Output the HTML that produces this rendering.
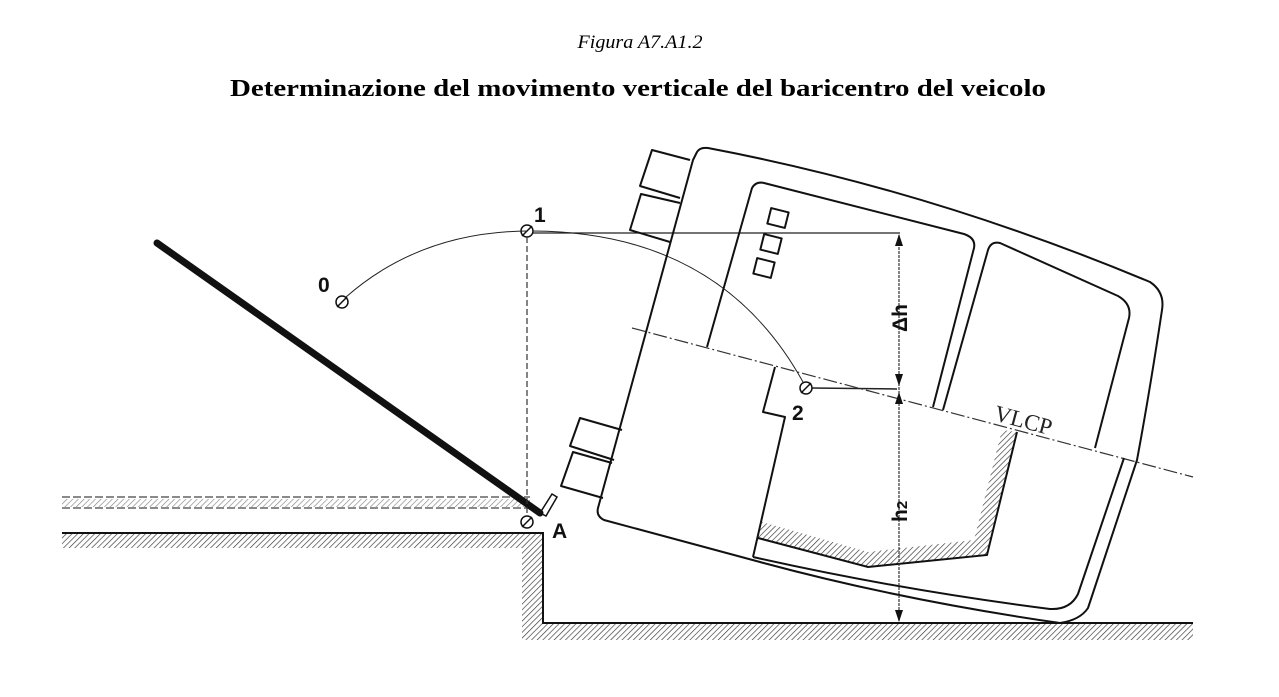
<!DOCTYPE html>
<html><head><meta charset="utf-8"><style>
html,body{margin:0;padding:0;background:#fff;}
svg{display:block;}
.serif{font-family:"Liberation Serif",serif;}
.sans{font-family:"Liberation Sans",sans-serif;}
</style></head><body>
<svg width="1279" height="697" viewBox="0 0 1279 697" xmlns="http://www.w3.org/2000/svg">
<defs>
<pattern id="h" width="4" height="4" patternUnits="userSpaceOnUse" patternTransform="rotate(45)">
<line x1="0" y1="0" x2="0" y2="4" stroke="#333" stroke-width="1.3"/>
</pattern>
</defs>
<text class="serif" x="640" y="48" text-anchor="middle" font-style="italic" font-size="19" textLength="125" lengthAdjust="spacingAndGlyphs">Figura A7.A1.2</text>
<text class="serif" x="638" y="96" text-anchor="middle" font-weight="bold" font-size="24" textLength="816" lengthAdjust="spacingAndGlyphs">Determinazione del movimento verticale del baricentro del veicolo</text>

<!-- ground -->
<rect x="62" y="534" width="460" height="14" fill="url(#h)"/>
<rect x="522" y="534" width="21" height="106" fill="url(#h)"/>
<rect x="543" y="623" width="650" height="17" fill="url(#h)"/>
<polyline points="62,533 543,533 543,623 1193,623" fill="none" stroke="#111" stroke-width="2"/>
<!-- dashed double line -->
<rect x="62" y="499" width="468" height="8" fill="url(#h)" opacity="0.6"/>
<line x1="62" y1="497" x2="530" y2="497" stroke="#444" stroke-width="1.3" stroke-dasharray="8,3"/>
<line x1="62" y1="508" x2="530" y2="508" stroke="#444" stroke-width="1.3" stroke-dasharray="8,3"/>

<!-- thick bar -->
<line x1="157" y1="243" x2="540" y2="513" stroke="#111" stroke-width="7" stroke-linecap="round"/>
<polygon points="540,513 552,494 557,497 546,516" fill="none" stroke="#111" stroke-width="1.5"/>

<!-- points -->
<g fill="none" stroke="#111" stroke-width="1.5">
<circle cx="342" cy="302" r="6"/><line x1="337" y1="307" x2="347" y2="297"/>
<circle cx="527" cy="231" r="6"/><line x1="522" y1="236" x2="532" y2="226"/>
<circle cx="806" cy="388" r="6"/><line x1="801" y1="393" x2="811" y2="383"/>
<circle cx="527" cy="522" r="6"/><line x1="522" y1="527" x2="532" y2="517"/>
</g>
<g class="sans" font-weight="bold" font-size="21" fill="#111">
<text x="318" y="292">0</text>
<text x="534" y="222">1</text>
<text x="792" y="420">2</text>
<text x="552" y="538">A</text>
</g>
<!-- arcs -->
<path d="M346,297 Q420,232 527,231" fill="none" stroke="#222" stroke-width="1"/>
<path d="M533,231 Q720,232 803,382" fill="none" stroke="#222" stroke-width="1"/>
<line x1="527" y1="237" x2="527" y2="515" stroke="#333" stroke-width="1.2" stroke-dasharray="6,3"/>
<line x1="533" y1="233" x2="900" y2="233" stroke="#222" stroke-width="1.2"/>
<line x1="812" y1="388" x2="897" y2="389" stroke="#222" stroke-width="1.5"/>

<!-- VLCP -->
<line x1="632" y1="328" x2="1193" y2="477" stroke="#333" stroke-width="1.2" stroke-dasharray="14,3,2,3"/>
<text class="serif" transform="translate(993,420) rotate(15)" font-size="23" fill="#222">VLCP</text>

<!-- vehicle -->
<g fill="none" stroke="#111" stroke-width="2" stroke-linejoin="round">
<path d="M693,160 L697,152 Q700,147 708,148 Q930,190 1150,282 Q1165,292 1162,310 Q1150,390 1137,460 L1088,608 Q1080,620 1060,623 Q900,600 760,562 L604,520 Q596,516 598,508 Z"/>
<path d="M1124,458 L1078,594 Q1070,610 1050,609 Q900,590 753,557"/>
<polyline points="775,367 763,412 785,417 753,557"/>
<path d="M707,347 L752,188 Q756,181 764,183 L964,234 Q976,238 974,248 L933,407"/>
<path d="M943,410 L988,250 Q991,241 1000,243 L1118,296 Q1132,304 1129,318 L1095,448"/>
<rect x="769" y="210" width="18" height="16" transform="rotate(14 778 218)"/>
<rect x="762" y="236" width="18" height="16" transform="rotate(14 771 244)"/>
<rect x="755" y="260" width="18" height="16" transform="rotate(14 764 268)"/>
<path d="M690,160 L652,150 L640,186 L680,198"/>
<path d="M680,203 L641,194 L630,230 L670,242"/>
<path d="M622,430 L580,418 L570,446 L614,460"/>
<path d="M612,463 L573,452 L561,486 L603,498"/>
</g>
<!-- seat hatch -->
<path d="M758,538 L868,567 L987,555 L1017,432 L1002,430 L974,540 L868,552 L762,522 Z" fill="url(#h)"/>
<polyline points="758,538 868,567 987,555 1017,432" fill="none" stroke="#111" stroke-width="2"/>

<!-- dimension -->
<line x1="899" y1="235" x2="899" y2="621" stroke="#333" stroke-width="1.2" stroke-dasharray="3,1"/>
<g fill="#111">
<polygon points="899,234 895,246 903,246"/>
<polygon points="899,386 895,374 903,374"/>
<polygon points="899,392 895,404 903,404"/>
<polygon points="899,622 895,610 903,610"/>
</g>
<text class="sans" transform="translate(907,332) rotate(-90)" font-weight="bold" font-size="21" fill="#111">Δh</text>
<text class="sans" transform="translate(907,522) rotate(-90)" font-weight="bold" font-size="21" fill="#111">h<tspan font-size="15">2</tspan></text>
</svg>
</body></html>
